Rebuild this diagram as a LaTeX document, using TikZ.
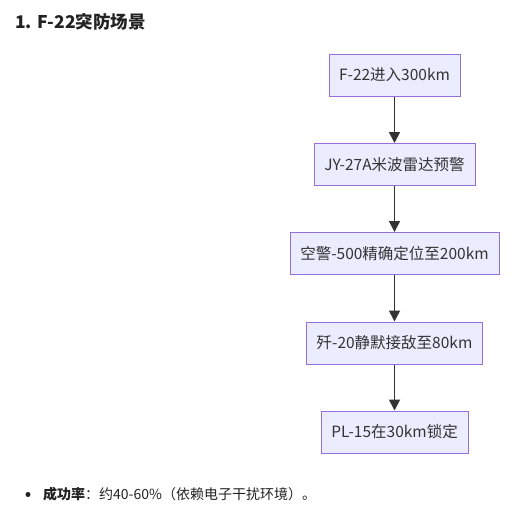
\documentclass[tikz,border=0pt]{standalone}
\usepackage{fontspec}
\setmainfont{Noto Sans CJK SC}
\usetikzlibrary{arrows.meta}
\definecolor{boxfill}{HTML}{ECECFF}
\definecolor{boxdraw}{HTML}{9370DB}
\definecolor{ink}{HTML}{333333}
\definecolor{txt}{HTML}{222222}
\begin{document}
\begin{tikzpicture}[x=1pt,y=-1pt,
  flowbox/.style={draw=boxdraw, fill=boxfill, line width=1pt, text=ink,
    font=\fontsize{15.5}{18}\selectfont, inner sep=0pt, anchor=center},
  flowarrow/.style={draw=ink, line width=1.8pt, -{Triangle[length=11pt,width=11pt]}}]
\useasboundingbox (0,0) rectangle (519,517);
\node[anchor=west, text=txt, font=\fontsize{17.5}{20}\selectfont\bfseries, inner sep=0pt] (title) at (15,22) {1. F-22突防场景};
\node[flowbox, minimum width=131pt, minimum height=42pt] (n1) at (394.5,75) {F-22进入300km};
\node[flowbox, minimum width=161pt, minimum height=42pt] (n2) at (394.5,164.5) {JY-27A米波雷达预警};
\node[flowbox, minimum width=209pt, minimum height=42pt] (n3) at (394.5,253.5) {空警-500精确定位至200km};
\node[flowbox, minimum width=176pt, minimum height=42pt] (n4) at (394.5,343) {歼-20静默接敌至80km};
\node[flowbox, minimum width=147pt, minimum height=42pt] (n5) at (394.5,432) {PL-15在30km锁定};
\draw[flowarrow] (n1) -- (n2);
\draw[flowarrow] (n2) -- (n3);
\draw[flowarrow] (n3) -- (n4);
\draw[flowarrow] (n4) -- (n5);
\fill[txt] (28,494.5) circle (2.5pt);
\node[anchor=west, text=txt, font=\fontsize{14}{16}\selectfont, inner sep=0pt] (note) at (43,494.5) {\textbf{成功率}：约40-60\%（依赖电子干扰环境）。};
\end{tikzpicture}
\end{document}
